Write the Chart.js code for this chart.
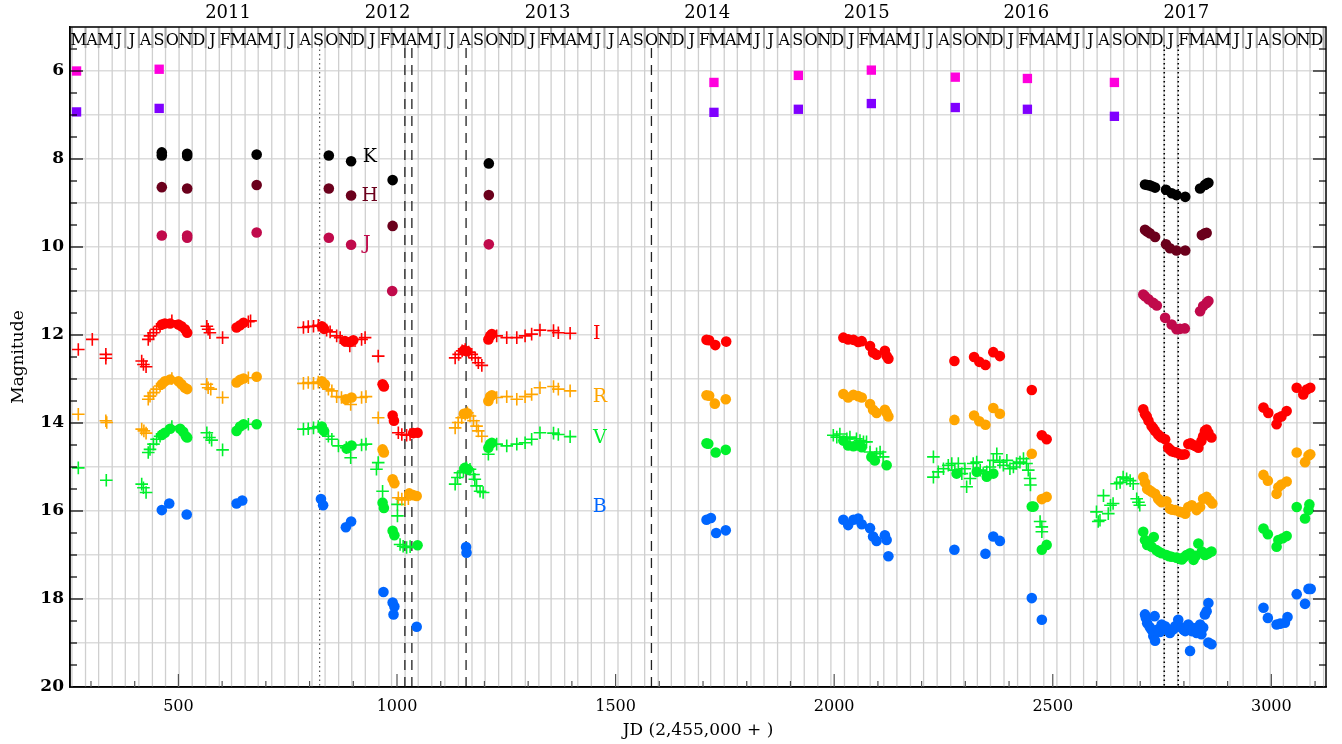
<!DOCTYPE html>
<html>
<head>
<meta charset="utf-8">
<script src="https://cdn.jsdelivr.net/npm/chart.js@4.4.1/dist/chart.umd.min.js"></script>
<style>
  html, body { margin: 0; padding: 0; background: #fff; }
  canvas { display: block; }
</style>
</head>
<body>
<canvas id="lc" width="1342" height="744"></canvas>
<script>
// JD - 2,455,000 vs magnitude

// I band
const iCross = [[271,12.33],[303,12.10],[334,12.44],[334,12.53],[416,12.59],[420,12.67],[426,12.72],
  [431,12.10],[435,12.02],[443,11.95],[450,11.87],[458,11.80],[485,11.68],
  [565,11.80],[568,11.87],[572,11.95],[601,12.06],[660,11.70],[665,11.68],
  [786,11.83],[797,11.81],[809,11.80],[820,11.78],[839,11.89],[847,11.93],[862,12.02],[870,12.06],[892,12.25],[919,12.10],[927,12.06],[957,12.48],
  [1003,14.22],[1011,14.26],[1022,14.28],[1030,14.26],
  [1133,12.52],[1141,12.44],[1149,12.36],[1156,12.33],[1164,12.39],[1171,12.44],[1179,12.52],[1186,12.63],[1194,12.69],
  [1228,12.02],[1251,12.06],[1274,12.06],[1293,12.02],[1308,11.98],[1327,11.89],[1358,11.90],[1369,11.95],[1396,11.96]];
const iDot = [[462,11.76],[469,11.74],[481,11.74],[500,11.76],[507,11.80],[515,11.87],[520,11.95],
  [633,11.83],[641,11.78],[649,11.72],
  [828,11.80],[833,11.86],[881,12.14],[892,12.16],[900,12.12],
  [967,13.12],[970,13.17],[990,13.83],[993,13.95],[1037,14.23],[1047,14.22],
  [1153,12.35],[1160,12.37],[1209,12.10],[1213,12.02],[1217,11.98],
  [1708,12.11],[1714,12.12],[1728,12.23],[1753,12.15],
  [2021,12.06],[2032,12.10],[2044,12.11],[2055,12.16],[2063,12.14],[2082,12.25],[2089,12.40],[2097,12.45],[2116,12.36],[2120,12.48],[2124,12.54],
  [2275,12.59],[2320,12.50],[2332,12.61],[2346,12.68],[2364,12.39],[2379,12.48],[2452,13.25],[2475,14.28],[2486,14.37],
  [2707,13.69],[2711,13.80],[2715,13.85],[2719,13.95],[2726,14.07],[2730,14.12],[2734,14.18],[2741,14.26],[2745,14.30],[2749,14.33],[2757,14.37],
  [2764,14.56],[2768,14.60],[2772,14.64],[2778,14.66],[2783,14.67],[2791,14.71],[2796,14.72],[2802,14.71],[2810,14.48],[2815,14.46],[2821,14.50],
  [2826,14.52],[2833,14.56],[2840,14.41],[2844,14.30],[2848,14.18],[2852,14.15],[2856,14.22],[2863,14.33],
  [2982,13.65],[2993,13.77],[3012,14.03],[3016,13.88],[3023,13.85],[3035,13.73],[3058,13.20],[3073,13.35],[3081,13.24],[3089,13.20]];

// R band
const rCross = [[271,13.80],[334,13.95],[336,13.99],[416,14.14],[421,14.18],[426,14.23],
  [431,13.46],[435,13.39],[443,13.31],[450,13.23],[458,13.16],[485,12.99],
  [565,13.12],[568,13.20],[574,13.23],[601,13.42],[660,12.97],
  [786,13.10],[797,13.08],[809,13.10],[820,13.07],[843,13.23],[851,13.27],[862,13.40],[873,13.42],[894,13.58],[919,13.42],[929,13.40],[957,13.88],
  [1003,15.70],[1011,15.73],[1018,15.75],[1026,15.72],
  [1133,14.11],[1140,13.99],[1148,13.88],[1156,13.80],[1161,13.77],[1167,13.84],[1175,13.95],[1182,14.07],[1186,14.18],[1194,14.30],
  [1228,13.42],[1251,13.40],[1274,13.46],[1293,13.40],[1308,13.35],[1327,13.20],[1358,13.17],[1369,13.23],[1396,13.27]];
const rDot = [[462,13.12],[469,13.05],[481,13.01],[500,13.05],[507,13.12],[515,13.20],[520,13.23],
  [633,13.08],[641,13.02],[649,12.99],[679,12.95],
  [828,13.05],[835,13.12],[883,13.46],[896,13.42],
  [967,14.60],[970,14.67],[990,15.28],[994,15.37],[1028,15.60],[1037,15.64],[1045,15.66],
  [1153,13.79],[1161,13.78],[1209,13.50],[1213,13.40],[1217,13.37],
  [1708,13.37],[1714,13.38],[1727,13.56],[1752,13.46],
  [2021,13.34],[2032,13.42],[2044,13.36],[2055,13.39],[2063,13.42],[2082,13.57],[2089,13.70],[2097,13.77],[2116,13.70],[2120,13.77],[2124,13.85],
  [2275,13.93],[2320,13.83],[2332,13.96],[2346,14.04],[2364,13.66],[2379,13.79],[2452,14.70],[2475,15.73],[2486,15.68],
  [2707,15.23],[2711,15.35],[2716,15.50],[2720,15.52],[2726,15.56],[2734,15.61],[2741,15.72],[2745,15.76],[2749,15.80],[2760,15.78],
  [2768,15.95],[2773,15.97],[2780,15.98],[2791,16.02],[2797,16.03],[2803,16.06],[2810,15.91],[2818,15.87],[2829,15.98],[2837,15.91],
  [2844,15.72],[2852,15.68],[2859,15.76],[2865,15.83],
  [2982,15.18],[2992,15.31],[3012,15.61],[3016,15.46],[3023,15.40],[3035,15.33],[3058,14.67],[3077,14.89],[3085,14.74],[3089,14.71]];

// V band
const vCross = [[271,15.02],[335,15.30],[416,15.39],[420,15.47],[426,15.58],
  [431,14.67],[435,14.60],[443,14.48],[450,14.37],[458,14.30],[485,14.08],
  [565,14.22],[571,14.33],[576,14.39],[601,14.61],[660,14.03],
  [786,14.14],[797,14.13],[809,14.11],[820,14.08],[843,14.30],[851,14.37],[866,14.52],[884,14.56],[894,14.79],[919,14.50],[929,14.48],[953,15.05],[957,14.90],
  [967,15.55],[1001,15.85],[1001,16.11],
  [1007,16.76],[1014,16.80],[1022,16.83],[1030,16.81],
  [1133,15.39],[1138,15.24],[1144,15.13],[1152,15.09],[1159,15.02],[1167,15.05],[1175,15.17],[1178,15.28],[1182,15.43],[1190,15.55],[1197,15.58],
  [1209,14.71],[1228,14.48],[1251,14.52],[1274,14.48],[1293,14.45],[1308,14.37],[1327,14.22],[1358,14.23],[1369,14.26],[1396,14.31],
  [1998,14.28],[2006,14.32],[2013,14.25],[2029,14.36],[2036,14.32],[2051,14.36],[2059,14.40],[2067,14.43],[2074,14.43],[2082,14.66],[2097,14.70],[2105,14.66],[2112,14.77],
  [2227,14.77],[2227,15.23],[2238,15.11],[2250,15.04],[2261,14.96],[2269,14.92],[2276,15.07],[2284,14.92],[2292,15.15],[2299,15.04],[2303,15.45],
  [2311,15.26],[2318,14.92],[2326,14.89],[2334,15.07],[2341,15.15],[2349,15.11],[2356,15.00],[2364,14.85],[2372,14.70],[2379,14.89],[2387,14.96],
  [2395,14.85],[2402,15.04],[2410,15.00],[2417,14.92],[2425,14.89],[2433,14.81],[2440,14.92],[2444,15.07],[2448,15.26],[2449,15.41],
  [2471,16.24],[2475,16.36],[2475,16.47],
  [2600,16.02],[2604,16.24],[2608,16.21],[2616,15.65],[2627,16.06],[2632,15.87],[2638,15.83],[2646,15.38],[2654,15.35],[2661,15.23],[2669,15.27],
  [2677,15.31],[2684,15.38],[2692,15.72],[2696,15.80],[2699,15.87]];
const vDot = [[462,14.27],[469,14.22],[481,14.13],[504,14.13],[511,14.20],[517,14.30],[520,14.33],
  [633,14.18],[641,14.08],[649,14.03],[679,14.03],
  [828,14.08],[833,14.18],[885,14.58],[896,14.51],
  [967,15.81],[970,15.93],[990,16.45],[994,16.55],[1047,16.78],
  [1155,15.02],[1162,15.05],[1209,14.56],[1213,14.48],[1217,14.45],
  [1708,14.46],[1712,14.47],[1729,14.67],[1752,14.61],
  [2021,14.40],[2032,14.51],[2044,14.53],[2055,14.51],[2063,14.55],[2085,14.77],[2093,14.85],[2120,14.96],
  [2280,15.15],[2326,15.11],[2349,15.22],[2364,15.15],
  [2452,15.90],[2456,15.90],[2475,16.88],[2486,16.77],
  [2707,16.47],[2711,16.66],[2716,16.77],[2720,16.72],[2726,16.81],[2731,16.59],[2737,16.89],[2743,16.93],[2749,16.96],[2760,17.00],
  [2766,17.03],[2772,17.04],[2783,17.06],[2789,17.08],[2795,17.10],[2800,17.05],[2806,17.00],[2814,16.96],[2822,17.11],[2827,17.02],
  [2833,16.74],[2841,16.92],[2848,17.00],[2852,16.98],[2856,16.96],[2863,16.92],
  [2982,16.40],[2992,16.53],[3012,16.81],[3016,16.66],[3026,16.62],[3035,16.57],[3058,15.91],[3077,16.17],[3085,15.98],[3087,15.85]];

// B band
const bDot = [[462,15.98],[479,15.83],[519,16.08],[633,15.83],[646,15.76],[826,15.73],[831,15.87],[883,16.37],[895,16.24],
  [969,17.84],[990,18.08],[994,18.17],[992,18.35],[1045,18.63],
  [1158,16.82],[1159,16.95],
  [1708,16.20],[1718,16.16],[1730,16.50],[1752,16.44],
  [2021,16.20],[2032,16.32],[2044,16.20],[2055,16.17],[2063,16.30],[2082,16.39],[2089,16.58],[2097,16.68],[2116,16.55],[2120,16.66],[2124,17.03],
  [2275,16.88],[2346,16.97],[2364,16.58],[2379,16.68],[2452,17.98],[2475,18.47],
  [2711,18.35],[2713,18.43],[2716,18.55],[2722,18.64],[2726,18.70],[2730,18.84],[2733,18.39],[2734,18.95],[2741,18.69],[2745,18.75],
  [2749,18.58],[2757,18.62],[2762,18.70],[2768,18.77],[2776,18.69],[2780,18.62],[2787,18.47],[2795,18.65],[2799,18.70],[2803,18.73],
  [2810,18.58],[2814,19.18],[2818,18.73],[2822,18.66],[2829,18.77],[2837,18.58],[2840,18.80],[2844,18.65],[2848,18.35],[2852,18.28],
  [2856,18.09],[2856,18.99],[2863,19.03],
  [2982,18.20],[2992,18.43],[3012,18.58],[3020,18.56],[3031,18.54],[3037,18.41],[3058,17.89],[3077,18.11],[3085,17.77],[3090,17.77]];

// near-infrared
const jDot = [[462,9.74],[520,9.74],[520,9.79],[679,9.67],[844,9.79],[895,9.95],[989,11.00],[1210,9.94],
  [2707,11.08],[2711,11.12],[2719,11.19],[2730,11.27],[2738,11.33],[2757,11.61],[2772,11.76],[2783,11.87],[2791,11.86],[2802,11.85],
  [2837,11.46],[2844,11.34],[2852,11.27],[2856,11.23]];
const hDot = [[462,8.64],[520,8.67],[679,8.59],[844,8.67],[895,8.83],[990,9.52],[1210,8.82],
  [2711,9.61],[2716,9.65],[2722,9.69],[2734,9.77],[2759,9.94],[2768,10.03],[2783,10.08],[2803,10.08],[2841,9.73],[2848,9.69],[2852,9.68]];
const kDot = [[462,7.85],[462,7.92],[520,7.88],[520,7.93],[679,7.90],[844,7.92],[895,8.05],[990,8.48],[1210,8.10],
  [2711,8.58],[2716,8.59],[2722,8.60],[2727,8.62],[2734,8.65],[2759,8.70],[2772,8.78],[2783,8.82],[2803,8.86],[2837,8.67],[2848,8.59],[2852,8.56],[2856,8.54]];

// mid-infrared squares
const wOne = [[267,6.00],[456,5.96],[1725,6.26],[1918,6.10],[2085,5.98],[2277,6.14],[2442,6.17],[2641,6.26]];
const wTwo = [[267,6.93],[456,6.85],[1725,6.94],[1918,6.87],[2085,6.74],[2277,6.83],[2442,6.87],[2641,7.03]];

// vertical markers (JD - 2,455,000)
const dashedEpochs = [1018, 1034, 1158, 1582];
const dottedEpochs = [823, 2755, 2787];

// axis ranges and tick labels
const jdMin = 252, jdMax = 3125;
const magMin = 5, magMax = 20;
const jdLabels = [500, 1000, 1500, 2000, 2500, 3000];
const magLabels = [6, 8, 10, 12, 14, 16, 18, 20];
const years = [2011, 2012, 2013, 2014, 2015, 2016, 2017];
const monthLetters = ['J','F','M','A','M','J','J','A','S','O','N','D'];

const SERIF = '"DejaVu Serif", "Liberation Serif", serif';
const C = {
  I: '#ff0000', R: '#ffa500', V: '#00f02c', B: '#0066ff',
  J: '#c00a4b', H: '#6b001c', K: '#000000', W1: '#ff00dd', W2: '#8000ff'
};

// JD-2455000 of the first of a month
function monthJD(y, m) {
  return Date.UTC(y, m, 1) / 86400000 + 2440587.5 - 2455000;
}

function xy(arr) {
  return arr.map(function(p) { return { x: p[0], y: p[1] }; });
}
function dots(label, arr, color) {
  return { label: label, data: xy(arr), pointStyle: 'circle', pointRadius: 5.3,
    backgroundColor: color, borderColor: color, borderWidth: 0 };
}
function crosses(label, arr, color) {
  return { label: label, data: xy(arr), pointStyle: 'cross', pointRadius: 6.3,
    backgroundColor: color, borderColor: color, borderWidth: 1.6 };
}
function squares(label, arr, color) {
  return { label: label, data: xy(arr), pointStyle: 'rect', pointRadius: 6.6,
    backgroundColor: color, borderColor: color, borderWidth: 0 };
}

function seg(ctx, x0, y0, x1, y1) {
  ctx.beginPath(); ctx.moveTo(x0, y0); ctx.lineTo(x1, y1); ctx.stroke();
}

const decor = {
  id: 'decor',
  beforeDatasetsDraw: function(chart) {
    const ctx = chart.ctx, a = chart.chartArea, x = chart.scales.x;
    ctx.save();
    // month grid, with darker marks in the month band
    for (let yr = 2010; yr <= 2018; yr++) {
      for (let m = 0; m < 12; m++) {
        const px = x.getPixelForValue(monthJD(yr, m));
        if (px <= a.left + 1 || px >= a.right - 1) continue;
        ctx.strokeStyle = '#cfcfcf'; ctx.lineWidth = 1.3;
        seg(ctx, px, a.top, px, a.bottom);
        ctx.strokeStyle = '#a8a8a8'; ctx.lineWidth = 2;
        seg(ctx, px, a.top, px, a.top + 21);
      }
    }
    // event markers
    ctx.lineWidth = 1.3;
    ctx.strokeStyle = '#222';
    ctx.setLineDash([10, 7]);
    dashedEpochs.forEach(function(v) {
      const px = x.getPixelForValue(v);
      seg(ctx, px, a.top + 21, px, a.bottom);
    });
    dottedEpochs.forEach(function(v, i) {
      ctx.strokeStyle = i === 0 ? '#555' : '#000';
      ctx.lineWidth = i === 0 ? 1.2 : 1.6;
      ctx.setLineDash([1.5, 3]);
      const px = x.getPixelForValue(v);
      seg(ctx, px, a.top + 18, px, a.bottom);
    });
    ctx.restore();
  },
  afterDatasetsDraw: function(chart) {
    const ctx = chart.ctx, a = chart.chartArea, x = chart.scales.x, y = chart.scales.y;
    ctx.save();
    // frame
    ctx.strokeStyle = '#000'; ctx.lineWidth = 1.5;
    ctx.strokeRect(a.left, a.top, a.right - a.left, a.bottom - a.top);
    // inward ticks
    ctx.lineWidth = 1.2;
    for (let v = magMin + 0.5; v < magMax; v += 0.5) {
      const py = y.getPixelForValue(v);
      const len = v % 2 === 0 ? 13 : 7;
      seg(ctx, a.left, py, a.left + len, py);
      seg(ctx, a.right, py, a.right - len, py);
    }
    ctx.strokeStyle = '#555';
    for (let v = 300; v < jdMax; v += 100) {
      const px = x.getPixelForValue(v);
      const len = v % 500 === 0 ? 13 : 6;
      seg(ctx, px, a.bottom, px, a.bottom - len);
    }
    // month letters
    ctx.fillStyle = '#000';
    ctx.font = '16px ' + SERIF;
    ctx.textAlign = 'center';
    ctx.textBaseline = 'alphabetic';
    for (let yr = 2010; yr <= 2017; yr++) {
      for (let m = 0; m < 12; m++) {
        const s = monthJD(yr, m), e = monthJD(m === 11 ? yr + 1 : yr, (m + 1) % 12);
        const c = (s + e) / 2;
        if (c < jdMin || c > jdMax) continue;
        ctx.fillText(monthLetters[m], x.getPixelForValue(c), a.top + 18);
      }
    }
    // years above the frame
    ctx.font = '18px ' + SERIF;
    ctx.textBaseline = 'middle';
    years.forEach(function(yr) {
      ctx.fillText(String(yr), x.getPixelForValue(monthJD(yr, 0) + 51), 13);
    });
    // band names
    ctx.font = '19px ' + SERIF;
    const tags = [['K', 938, 7.96, C.K], ['H', 938, 8.85, C.H], ['J', 931, 9.94, C.J],
      ['I', 1457, 11.97, C.I], ['R', 1464, 13.40, C.R], ['V', 1464, 14.35, C.V], ['B', 1464, 15.90, C.B]];
    tags.forEach(function(t) {
      ctx.fillStyle = t[3];
      ctx.fillText(t[0], x.getPixelForValue(t[1]), y.getPixelForValue(t[2]));
    });
    ctx.restore();
  }
};

new Chart(document.getElementById('lc'), {
  type: 'scatter',
  data: {
    datasets: [
      squares('W1', wOne, C.W1), squares('W2', wTwo, C.W2),
      dots('K', kDot, C.K), dots('H', hDot, C.H), dots('J', jDot, C.J),
      dots('I', iDot, C.I), crosses('I', iCross, C.I),
      dots('R', rDot, C.R), crosses('R', rCross, C.R),
      dots('V', vDot, C.V), crosses('V', vCross, C.V),
      dots('B', bDot, C.B)
    ]
  },
  options: {
    responsive: false,
    animation: false,
    devicePixelRatio: 1,
    events: [],
    layout: { padding: { left: 0, right: 16, top: 27, bottom: 0 } },
    plugins: { legend: { display: false }, tooltip: { enabled: false } },
    scales: {
      x: {
        type: 'linear', min: jdMin, max: jdMax,
        afterFit: function(s) { s.height = 57; },
        grid: { display: false, drawTicks: false },
        border: { display: true, color: '#000', width: 1.5 },
        ticks: {
          stepSize: 100, autoSkip: false, maxRotation: 0, padding: 10,
          color: '#000', font: { family: SERIF, size: 16 },
          callback: function(v) { return jdLabels.indexOf(v) >= 0 ? String(v) : ''; }
        },
        title: { display: true, text: 'JD (2,455,000 + )', color: '#000',
          font: { family: SERIF, size: 17 }, padding: { top: 0, bottom: 3 } }
      },
      y: {
        type: 'linear', reverse: true, min: magMin, max: magMax,
        afterFit: function(s) { s.width = 70; },
        grid: { color: '#dcdcdc', lineWidth: 1.6, drawTicks: false },
        border: { display: true, color: '#000', width: 1.5 },
        ticks: {
          stepSize: 1, autoSkip: false, padding: 6,
          color: '#000', font: { family: SERIF, size: 17, weight: 'bold' },
          callback: function(v) { return magLabels.indexOf(v) >= 0 ? String(v) : ''; }
        },
        title: { display: true, text: 'Magnitude', color: '#000',
          font: { family: SERIF, size: 17 }, padding: { top: 8, bottom: 0 } }
      }
    }
  },
  plugins: [decor]
});
</script>
</body>
</html>
